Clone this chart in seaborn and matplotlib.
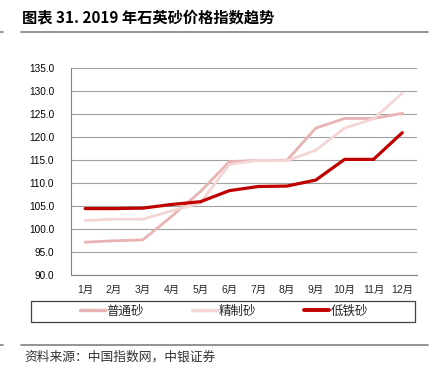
import numpy as np
import pandas as pd
import matplotlib
matplotlib.use("Agg")
import matplotlib.pyplot as plt
import seaborn as sns
from matplotlib.patches import Rectangle
from matplotlib.lines import Line2D

months = ["1月", "2月", "3月", "4月", "5月", "6月", "7月", "8月", "9月", "10月", "11月", "12月"]
series_names = ["普通砂", "精制砂", "低铁砂"]
putong = [97.2, 97.5, 97.7, 102.8, 108.2, 114.7, 115.0, 115.0, 122.0, 124.1, 124.1, 125.2]
jingzhi = [101.9, 102.2, 102.2, 104.0, 105.7, 114.1, 115.0, 114.9, 117.2, 122.0, 124.0, 129.6]
ditie = [104.5, 104.5, 104.6, 105.4, 106.0, 108.4, 109.3, 109.4, 110.7, 115.2, 115.2, 121.0]
y_ticks = [90, 95, 100, 105, 110, 115, 120, 125, 130, 135]
colors = ["#E8B3B3", "#F5D6D6", "#C00000"]
title = "图表 31. 2019 年石英砂价格指数趋势"
source = "资料来源：中国指数网，中银证券"

sns.set_theme(style="white")
plt.rcParams['font.family'] = ['Liberation Sans', 'Noto Sans CJK SC', 'DejaVu Sans']

df = pd.DataFrame({
    "month_idx": list(range(12)) * 3,
    "value": putong + jingzhi + ditie,
    "series": sum([[s] * 12 for s in series_names], []),
})

fig = plt.figure(figsize=(4.38, 3.71), dpi=100)
W, H = 438, 371
ax = fig.add_axes([70.7 / W, 1 - 275.3 / H, 346 / W, 207 / H])

sns.lineplot(data=df, x="month_idx", y="value", hue="series", hue_order=series_names,
             palette=colors, ax=ax, legend=False, linewidth=2.0, zorder=3)
for line, lw in zip(ax.get_lines(), [2.0, 2.0, 2.3]):
    line.set_linewidth(lw)
    line.set_solid_joinstyle("miter")

ax.set_xlim(-0.5, 11.5)
ax.set_ylim(90, 135)
ax.set_yticks(y_ticks)
ax.set_yticklabels([f"{v:.1f}" for v in y_ticks], fontsize=7.2, color="#000000",
                   family=['Liberation Sans'])
ax.set_xticks(np.arange(-0.5, 12, 1))
ax.set_xticklabels([""] * 13)
ax.set_xticks(np.arange(12), minor=True)
ax.set_xticklabels(months, minor=True, fontsize=7.5, family=['Liberation Sans', 'Noto Sans CJK SC'])
ax.tick_params(axis="x", which="major", direction="out", length=4, color="#808080", width=0.8)
ax.tick_params(axis="x", which="minor", length=0, pad=7)
ax.tick_params(axis="y", direction="out", length=4, color="#808080", width=0.8, pad=8)
ax.set_xlabel("")
ax.set_ylabel("")
ax.yaxis.grid(True, color="#A0A0A0", linewidth=0.8)
ax.xaxis.grid(False)
for s in ["top", "right"]:
    ax.spines[s].set_visible(False)
for s in ["left", "bottom"]:
    ax.spines[s].set_color("#808080")
    ax.spines[s].set_linewidth(0.8)

# Legend box
fig.patches.append(Rectangle((31 / W, 1 - 321.7 / H), 384 / W, 21 / H, transform=fig.transFigure,
                             fill=False, edgecolor="#404040", linewidth=0.9))
handles = [Line2D([], [], color=c, linewidth=lw) for c, lw in zip(colors, [2.5, 2.5, 2.8])]
fig.legend(handles, series_names, loc="center", bbox_to_anchor=(224 / W, 1 - 311 / H),
           ncol=3, frameon=False, handlelength=2.0, handletextpad=0.15,
           columnspacing=3.8, prop={'family': ['Noto Sans CJK SC'], 'size': 9})

# Title and rules
fig.text(22 / W, 1 - 17 / H, title, fontsize=11, fontweight="bold", va="center", ha="left",
         family=['Noto Sans CJK SC'], color="#000000")
fig.add_artist(Line2D([20.5 / W, 428 / W], [1 - 32.3 / H] * 2, color="#808080", linewidth=1.2,
                      transform=fig.transFigure))
fig.add_artist(Line2D([0, 3 / W], [1 - 32.3 / H] * 2, color="#808080", linewidth=1.2,
                      transform=fig.transFigure))
fig.add_artist(Line2D([20.5 / W, 428 / W], [1 - 345 / H] * 2, color="#808080", linewidth=1.2,
                      transform=fig.transFigure))
fig.add_artist(Line2D([0, 3 / W], [1 - 345 / H] * 2, color="#808080", linewidth=1.2,
                      transform=fig.transFigure))
fig.text(24 / W, 1 - 357.5 / H, source, fontsize=9.2, style="italic", va="center", ha="left",
         family=['Noto Sans CJK SC'], color="#333333", fontweight="light")

fig.savefig("out.png", dpi=100)
